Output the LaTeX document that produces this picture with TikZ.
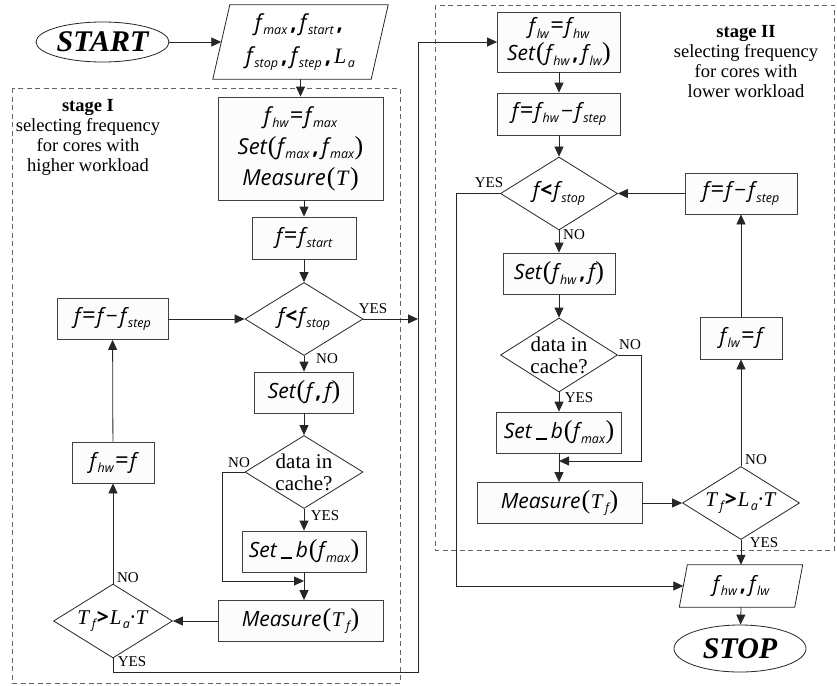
\documentclass[tikz,border=0pt]{standalone}
\usepackage{fontspec}
\setmainfont{Liberation Serif}
\newfontfamily\osf{Open Sans}
\usetikzlibrary{shapes.geometric,arrows.meta}
\newcommand\Vv[1]{{\osf\itshape #1}}
\newcommand\Sbb[1]{\kern1.5pt\raisebox{-0.45ex}{\fontsize{12.5}{12.5}\selectfont\osf\itshape #1}}
\newcommand\fv[1]{\Vv{f}\Sbb{#1}}
\newcommand\LPa{\kern1pt{\fontsize{26}{26}\selectfont\rmfamily(}\kern0.5pt}
\newcommand\RPa{\kern0.5pt{\fontsize{26}{26}\selectfont\rmfamily)}}
\newcommand\EQa{\kern1.5pt{\osf\fontsize{24}{24}\selectfont=}\kern1pt}
\newcommand\MIa{\kern2.5pt{\osf −}\kern2pt}
\newcommand\CMa{\kern3pt{\osf\bfseries ,}\kern3pt}
\newcommand\LTa{\kern1pt{\osf\bfseries <}\kern1pt}
\newcommand\GTa{\kern1pt{\osf\bfseries >}\kern1pt}
\newcommand\TTa[1]{\textit{#1}}
\newcommand\USa{\kern4pt\rule[-1pt]{11pt}{2pt}\kern4pt}
\newcommand\mfnt{\fontsize{21}{30}\selectfont}
\begin{document}
\begin{tikzpicture}[x=1pt,y=-1pt,
  >={Triangle[length=10pt,width=9pt]},
  line/.style={draw=black!85, line width=0.8pt},
  arr/.style={line,->},
  box/.style={draw=black!75, line width=0.8pt, fill=black!1, inner sep=0pt, align=center, font=\mfnt},
  dia/.style={diamond, draw=black!85, line width=0.8pt, fill=white, inner sep=0pt},
  dtext/.style={inner sep=0pt, align=center, font=\mfnt},
  lbl/.style={font=\fontsize{15}{15}\selectfont, inner sep=0pt},
  stgtext/.style={font=\fontsize{18.5}{20}\selectfont, align=center, inner sep=0pt},
  stg/.style={dash pattern=on 5pt off 3.5pt, draw=black!60, line width=0.8pt},
  term/.style={ellipse, draw=black!85, line width=0.8pt, fill=white, inner sep=0pt, font=\fontsize{30}{30}\selectfont\bfseries\itshape}]
\useasboundingbox (0,0) rectangle (837,685);
% stage frames
\draw[stg] (12,88) rectangle (400,683);
\draw[stg] (435,5) rectangle (834,550);
\node[stgtext] (s1) at (88,137) {\textbf{stage I}\\selecting frequency\\for cores with\\higher workload};
\node[stgtext] (s2) at (746,62) {\textbf{stage II}\\selecting frequency\\for cores with\\lower workload};
% ---- stage I nodes
\node[term, minimum width=133pt, minimum height=40pt] (start) at (102.5,42) {START};
\node[inner sep=0pt, minimum width=175pt, minimum height=74pt, align=center, font=\fontsize{22}{33}\selectfont] (para1) at (300.5,42) {\fv{max}\CMa\fv{start}\CMa\\\fv{stop}\CMa\fv{step}\CMa\TTa{L}\Sbb{a}};
\draw[line] ([xshift=17pt]para1.north west) -- (para1.north east) -- ([xshift=-17pt]para1.south east) -- (para1.south west) -- cycle;
\node[box, minimum width=165pt, minimum height=103pt, font=\fontsize{22}{31}\selectfont] (b1) at (300.5,148.5) {\fv{hw}\EQa\fv{max}\\\Vv{Set}\LPa\fv{max}\CMa\fv{max}\RPa\\\Vv{Measure}\LPa\TTa{T}\RPa};
\node[box, minimum width=104pt, minimum height=42pt] (b2) at (304,238) {\Vv{f}\EQa\fv{start}};
\node[dia, minimum width=118pt, minimum height=73pt] (d1) at (304,319) {};
\node[dtext] (t1) at (d1) {\Vv{f}\LTa\fv{stop}};
\node[box, minimum width=111pt, minimum height=41pt] (bstep1) at (112.5,319) {\Vv{f}\EQa\Vv{f}\MIa\fv{step}};
\node[box, minimum width=99pt, minimum height=41pt] (bset1) at (304,392.5) {\Vv{Set}\LPa\Vv{f}\CMa\Vv{f}\RPa};
\node[dia, minimum width=118pt, minimum height=73pt] (d2) at (304,472) {};
\node[dtext, font=\fontsize{21}{22}\selectfont] (t2) at (d2) {data in\\cache?};
\node[box, minimum width=82pt, minimum height=41pt] (bhw) at (113,462.5) {\fv{hw}\EQa\Vv{f}};
\node[box, minimum width=124pt, minimum height=41pt] (bsetb1) at (304,551.5) {\Vv{Set}\USa\Vv{b}\LPa\fv{max}\RPa};
\node[box, minimum width=165pt, minimum height=41pt] (bmeas1) at (300.5,621) {\Vv{Measure}\LPa\TTa{T}\Sbb{f}\RPa};
\node[dia, minimum width=119pt, minimum height=74pt] (d3) at (113,621) {};
\node[dtext] (t3) at (d3) {\TTa{T}\Sbb{f}\GTa\TTa{L}\Sbb{a}{\osf·}\TTa{T}};
% ---- stage II nodes
\node[box, minimum width=123pt, minimum height=60pt, font=\fontsize{21}{27}\selectfont] (bfl) at (559,42) {\fv{lw}\EQa\fv{hw}\\\Vv{Set}\LPa\fv{hw}\CMa\fv{lw}\RPa};
\node[box, minimum width=123pt, minimum height=42pt] (bf2) at (559,114) {\Vv{f}\EQa\fv{hw}\MIa\fv{step}};
\node[dia, minimum width=117pt, minimum height=73pt] (d4) at (559,193.5) {};
\node[dtext] (t4) at (d4) {\Vv{f}\LTa\fv{stop}};
\node[box, minimum width=112pt, minimum height=41pt] (bstep2) at (741,193.5) {\Vv{f}\EQa\Vv{f}\MIa\fv{step}};
\node[box, minimum width=112pt, minimum height=41pt] (bset2) at (559,273.5) {\Vv{Set}\LPa\fv{hw}\CMa\Vv{f}\RPa};
\node[box, minimum width=82pt, minimum height=42pt] (blw) at (741,338) {\fv{lw}\EQa\Vv{f}};
\node[dia, minimum width=117pt, minimum height=74pt] (d5) at (559,355) {};
\node[dtext, font=\fontsize{21}{22}\selectfont] (t5) at (d5) {data in\\cache?};
\node[box, minimum width=125pt, minimum height=41pt] (bsetb2) at (559,432.5) {\Vv{Set}\USa\Vv{b}\LPa\fv{max}\RPa};
\node[box, minimum width=165pt, minimum height=41pt] (bmeas2) at (559.5,503) {\Vv{Measure}\LPa\TTa{T}\Sbb{f}\RPa};
\node[dia, minimum width=117pt, minimum height=73pt] (d6) at (741,503) {};
\node[dtext] (t6) at (d6) {\TTa{T}\Sbb{f}\GTa\TTa{L}\Sbb{a}{\osf·}\TTa{T}};
\node[inner sep=0pt, minimum width=123pt, minimum height=42pt, font=\mfnt] (para2) at (741,586) {\fv{hw}\CMa\fv{lw}};
\draw[line] ([xshift=8pt]para2.north west) -- (para2.north east) -- ([xshift=-8pt]para2.south east) -- (para2.south west) -- cycle;
\node[term, minimum width=132pt, minimum height=47pt] (stop) at (740,648.5) {STOP};
% coordinates
\coordinate (jbot) at (418,672);
\coordinate (cno1) at (222,472);
\coordinate (m1) at (304,581);
\coordinate (cyes4) at (456,193.5);
\coordinate (cno5) at (641,355);
\coordinate (m2) at (559,461);
% ---- connectors stage I
\draw[arr] (start) -- ([xshift=8.5pt]para1.west);
\draw[arr] (para1.south) -- (b1.north);
\draw[arr] (b1.south -| b2) -- (b2.north);
\draw[arr] (b2) -- (d1);
\draw[arr] (d1.east) -- (d1.east -| jbot);
\draw[arr] (d1) -- (bset1);
\draw[arr] (bset1) -- (d2);
\draw[arr] (d2) -- (bsetb1);
\draw[arr] (d2.west) -- (cno1) |- (m1);
\draw[arr] (bsetb1.south) -- (bsetb1.south |- bmeas1.north);
\draw[arr] (bmeas1.west) -- (d3.east);
\draw[arr] (d3) -- (bhw);
\draw[arr] (bhw) -- (bstep1);
\draw[arr] (bstep1) -- (d1);
\draw[arr] (d3.south) |- (jbot) |- (bfl.west);
% ---- connectors stage II
\draw[arr] (bfl) -- (bf2);
\draw[arr] (bf2) -- (d4);
\draw[arr] (d4.west) -- (cyes4) |- ([xshift=4pt]para2.west);
\draw[arr] (d4) -- (bset2);
\draw[arr] (bset2) -- (d5);
\draw[arr] (d5) -- (bsetb2);
\draw[arr] (d5.east) -- (cno5) |- (m2);
\draw[arr] (bsetb2.south) -- (bsetb2.south |- bmeas2.north);
\draw[arr] (bmeas2) -- (d6);
\draw[arr] (d6) -- (blw);
\draw[arr] (blw) -- (bstep2);
\draw[arr] (bstep2) -- (d4);
\draw[arr] (d6) -- (para2.north);
\draw[arr] (para2.south) -- (stop);
% ---- labels
\node[lbl] (l1) at (373,309) {YES};
\node[lbl] (l2) at (327,359) {NO};
\node[lbl] (l3) at (239,463) {NO};
\node[lbl] (l4) at (325,516) {YES};
\node[lbl] (l5) at (128,578) {NO};
\node[lbl] (l6) at (132,662) {YES};
\node[lbl] (l7) at (489,183) {YES};
\node[lbl] (l8) at (574,235) {NO};
\node[lbl] (l9) at (630,345) {NO};
\node[lbl] (l10) at (579,398) {YES};
\node[lbl] (l11) at (756,460) {NO};
\node[lbl] (l12) at (764,543) {YES};
\end{tikzpicture}
\end{document}
